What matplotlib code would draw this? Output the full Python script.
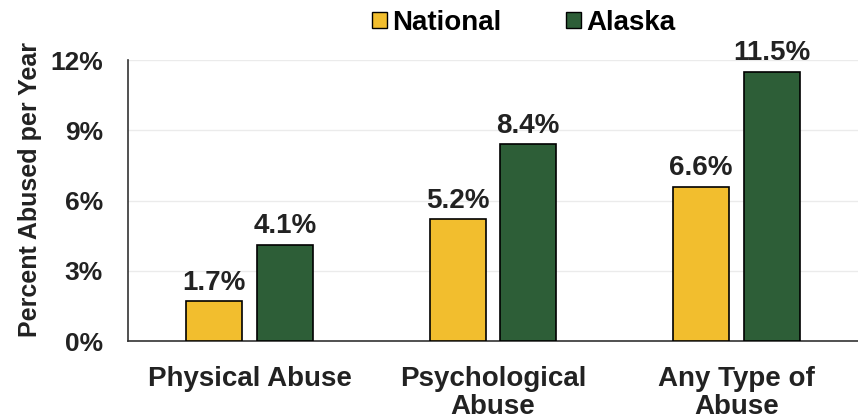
import numpy as np
import matplotlib.pyplot as plt
from matplotlib.patches import Patch

plt.rcParams['font.family'] = ['Liberation Sans', 'DejaVu Sans']
plt.rcParams['font.weight'] = 'bold'

categories = ['Physical Abuse', 'Psychological\nAbuse', 'Any Type of\nAbuse']
national = [1.7, 5.2, 6.6]
alaska = [4.1, 8.4, 11.5]
yticks = [0, 3, 6, 9, 12]

c_nat = '#F2BE2E'
c_ak = '#2D5E37'
txt = '#222222'

fig = plt.figure(figsize=(8.58, 4.2), dpi=100)
ax = fig.add_axes([0.149, 0.188, 0.851, 0.669])

x = np.arange(len(categories))
w = 0.23
off = 0.145
b1 = ax.bar(x - off, national, w, color=c_nat, edgecolor='black', linewidth=1.2, zorder=3)
b2 = ax.bar(x + off, alaska, w, color=c_ak, edgecolor='black', linewidth=1.2, zorder=3)

for bars, vals in ((b1, national), (b2, alaska)):
    for b, v in zip(bars, vals):
        ax.annotate(f'{v:.1f}%', (b.get_x() + b.get_width() / 2, v), xytext=(0, 4),
                    textcoords='offset points', ha='center', va='bottom',
                    fontsize=20, fontweight='bold', color=txt)

ax.set_xlim(-0.5, 2.5)
ax.set_ylim(0, 12)
ax.set_yticks(yticks)
ax.set_yticklabels([f'{t}%' for t in yticks], fontsize=19, fontweight='bold', color=txt)
ax.set_xticks(x)
ax.set_xticklabels(categories, fontsize=20, fontweight='bold', color=txt, linespacing=1.08)
ax.tick_params(axis='x', length=0, pad=18)
ax.tick_params(axis='y', length=0, pad=18)
ax.set_ylabel('Percent Abused per Year', fontsize=18, fontweight='bold', color=txt)
ax.yaxis.set_label_coords(-0.118, 0.54)

ax.grid(axis='y', color='#ebebeb', linewidth=1, zorder=0)
for s in ['top', 'right']:
    ax.spines[s].set_visible(False)
ax.spines['left'].set_color('#333333')
ax.spines['bottom'].set_color('#333333')
ax.spines['left'].set_linewidth(1.2)
ax.spines['bottom'].set_linewidth(1.2)

handles = [Patch(facecolor=c_nat, edgecolor='black', label='National'),
           Patch(facecolor=c_ak, edgecolor='black', label='Alaska')]
fig.legend(handles=handles, loc='center left', bbox_to_anchor=(372 / 858, 1 - 23 / 420), ncol=2,
           frameon=False, borderpad=0, borderaxespad=0,
           prop={'size': 20, 'weight': 'bold'}, handlelength=0.54, handleheight=0.54,
           handletextpad=0.2, columnspacing=2.3)

fig.savefig('out.png', dpi=100)
